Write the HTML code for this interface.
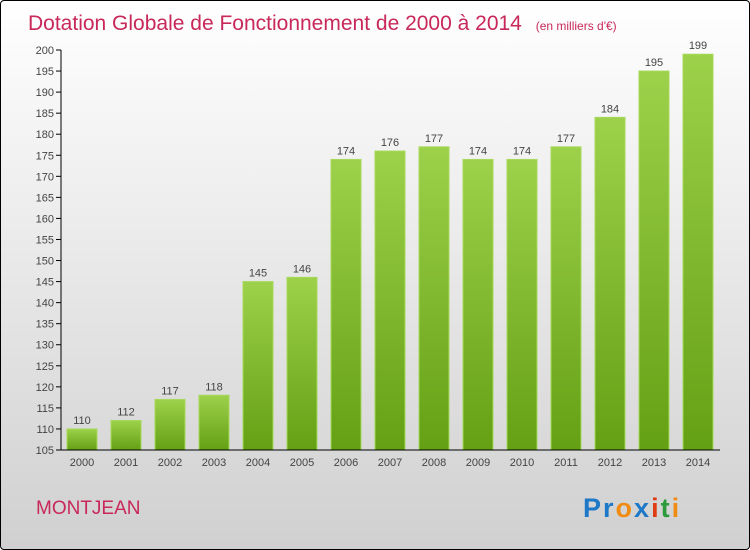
<!DOCTYPE html>
<html><head><meta charset="utf-8"><style>
body{margin:0;width:750px;height:550px;overflow:hidden;font-family:"Liberation Sans",sans-serif}
#frame{position:absolute;left:0;top:0;width:748px;height:548px;border:1px solid #000;border-radius:4px;background:linear-gradient(#ffffff,#d0d0d0)}
</style></head><body>
<div id="frame"></div>
<svg id="chart" width="750" height="550" style="position:absolute;left:0;top:0">
<defs><linearGradient id="bg" x1="0" y1="0" x2="0" y2="1"><stop offset="0" stop-color="#9dd14b"/><stop offset="1" stop-color="#64a014"/></linearGradient></defs>
<text x="28" y="30" font-size="21" fill="#c8285a">Dotation Globale de Fonctionnement de 2000 à 2014 <tspan font-size="12" dx="8">(en milliers d'€)</tspan></text>
<text x="36" y="514" font-size="19" fill="#c8285a">MONTJEAN</text>
<text x="583" y="517" font-size="27" font-weight="bold" letter-spacing="2"><tspan fill="#1e78c8">Pr</tspan><tspan fill="#f08c14">o</tspan><tspan fill="#1e78c8">x</tspan><tspan fill="#e03c14">i</tspan><tspan fill="#2a9a3a">t</tspan><tspan fill="#f08c14">i</tspan></text>
<g id="plot"></g>
</svg>
<script>
const years=["2000","2001","2002","2003","2004","2005","2006","2007","2008","2009","2010","2011","2012","2013","2014"];
const values=[110,112,117,118,145,146,174,176,177,174,174,177,184,195,199];
const yTicks=[105,110,115,120,125,130,135,140,145,150,155,160,165,170,175,180,185,190,195,200];
const NS="http://www.w3.org/2000/svg";
const g=document.getElementById('plot');
const y=v=>450-(v-105)*400/95;
const x=i=>82+i*44;
function mk(t,a){const e=document.createElementNS(NS,t);for(const k in a)e.setAttribute(k,a[k]);g.appendChild(e);return e;}
yTicks.forEach(t=>{
 const l=mk('line',{x1:56,x2:61,y1:y(t),y2:y(t),stroke:'#000'});
 
 
 const tx=mk('text',{x:54,y:y(t)+4,'text-anchor':'end','font-size':11,fill:'#444'});
 tx.textContent=t;
 
 
});
years.forEach((yr,i)=>{
 const v=values[i];
 const r=mk('rect',{x:x(i)-15,y:y(v),width:30,height:450-y(v),fill:'url(#bg)',stroke:'#a6d95a','stroke-width':1});
 
 
 const vl=mk('text',{x:x(i),y:y(v)-5,'text-anchor':'middle','font-size':11,fill:'#444'});
 vl.textContent=v;
 
 
 const xl=mk('text',{x:x(i),y:466,'text-anchor':'middle','font-size':11,fill:'#444'});
 xl.textContent=yr;
 
 
});
const ya=mk('line',{x1:61,x2:61,y1:y(200),y2:450,stroke:'#000'});


const xa=mk('line',{x1:61,x2:720,y1:450,y2:450,stroke:'#000'});


</script>
</body></html>
